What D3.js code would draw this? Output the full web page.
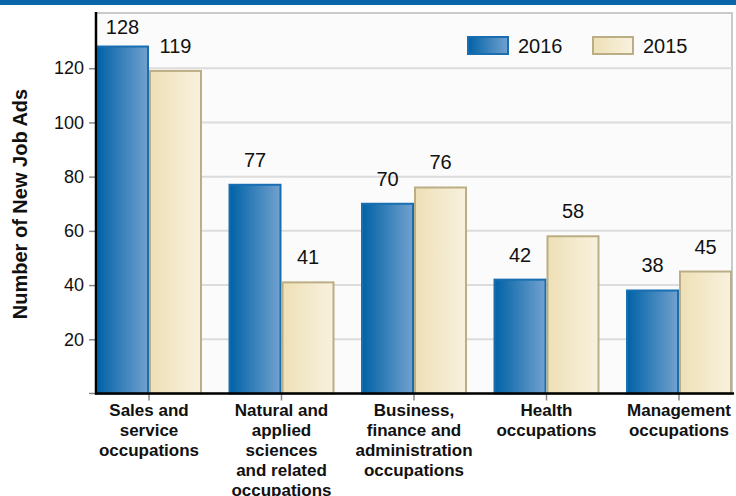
<!DOCTYPE html>
<html lang="en">
<head>
  <meta charset="UTF-8">
  <title>New Job Ads</title>
  <script src="https://cdn.jsdelivr.net/npm/d3@7/dist/d3.min.js"></script>
  <style>
    html, body { margin: 0; padding: 0; background: #fff; }
    svg { display: block; font-family: "Liberation Sans", Arial, sans-serif; }
  </style>
</head>
<body>
  <div id="chart"></div>
  <script>
    // data
    const categories = [
      ['Sales and', 'service', 'occupations'],
      ['Natural and', 'applied', 'sciences', 'and related', 'occupations'],
      ['Business,', 'finance and', 'administration', 'occupations'],
      ['Health', 'occupations'],
      ['Management', 'occupations']
    ];
    const seriesNames = ['2016', '2015'];
    const values2016 = [128, 77, 70, 42, 38];
    const values2015 = [119, 41, 76, 58, 45];
    const yTicks = [20, 40, 60, 80, 100, 120];

    const W = 736, H = 496;
    const plotL = 96, plotR = 732, plotT = 14, plotB = 393.5;

    const svg = d3.select('#chart').append('svg')
      .attr('width', W)
      .attr('height', H);

    // gradients for the bars
    const defs = svg.append('defs');
    const grads = [
      { id: 'g2016', from: '#0062a6', to: '#72a1cf', stroke: '#186eb0' },
      { id: 'g2015', from: '#eee0b6', to: '#f8f1de', stroke: '#bcae84' }
    ];
    grads.forEach(g => {
      const lg = defs.append('linearGradient').attr('id', g.id)
        .attr('x1', '0%').attr('x2', '100%').attr('y1', '0%').attr('y2', '0%');
      lg.append('stop').attr('offset', '0%').attr('stop-color', g.from);
      lg.append('stop').attr('offset', '100%').attr('stop-color', g.to);
    });

    // top band
    svg.append('rect').attr('x', 0).attr('y', 0).attr('width', W).attr('height', 5)
      .attr('fill', '#0a66a8');

    // plot background + border
    svg.append('rect')
      .attr('x', plotL).attr('y', plotT - 1)
      .attr('width', plotR - plotL).attr('height', plotB - plotT + 1)
      .attr('fill', '#fbfbfb')
      .attr('stroke', '#c9c9c9')
      .attr('stroke-width', 2);

    const catIdx = d3.range(categories.length);
    const x0 = d3.scaleBand()
      .domain(catIdx)
      .range([plotL, plotR])
      .paddingInner(0.2)
      .paddingOuter(0);
    const x1 = d3.scaleBand()
      .domain(seriesNames)
      .range([0, x0.bandwidth()]);
    const y = d3.scaleLinear()
      .domain([0, 140])
      .range([plotB, plotT]);

    // grid
    svg.append('g')
      .selectAll('line')
      .data(yTicks)
      .enter()
      .append('line')
      .attr('x1', plotL).attr('x2', plotR)
      .attr('y1', d => y(d)).attr('y2', d => y(d))
      .attr('stroke', '#dcdcdc')
      .attr('stroke-width', 2);

    // bars
    const rows = catIdx.map(i => [
      { key: '2016', v: values2016[i], fill: 'url(#g2016)', stroke: grads[0].stroke },
      { key: '2015', v: values2015[i], fill: 'url(#g2015)', stroke: grads[1].stroke }
    ]);

    const groups = svg.append('g')
      .selectAll('g')
      .data(rows)
      .enter()
      .append('g')
      .attr('transform', (d, i) => 'translate(' + x0(i) + ',0)');

    groups.selectAll('rect')
      .data(d => d)
      .enter()
      .append('rect')
      .attr('x', d => x1(d.key) + 1)
      .attr('y', d => y(d.v))
      .attr('width', x1.bandwidth() - 2)
      .attr('height', d => plotB - y(d.v))
      .attr('fill', d => d.fill)
      .attr('stroke', d => d.stroke)
      .attr('stroke-width', 2);

    // value labels (kept clear of the top border)
    groups.selectAll('text')
      .data(d => d)
      .enter()
      .append('text')
      .attr('x', d => x1(d.key) + x1.bandwidth() / 2)
      .attr('y', d => Math.max(y(d.v) - 18, 34))
      .attr('text-anchor', 'middle')
      .attr('font-size', '20px')
      .attr('fill', '#111')
      .text(d => d.v);

    // y axis
    const yAxis = d3.axisLeft(y)
      .tickValues(yTicks)
      .tickSize(7)
      .tickPadding(5);
    const gy = svg.append('g')
      .attr('transform', 'translate(' + plotL + ',0)')
      .call(yAxis);
    gy.select('.domain').remove();
    gy.selectAll('.tick line').attr('stroke', '#888').attr('stroke-width', 1.5);
    gy.selectAll('.tick text').attr('font-size', '18px').attr('fill', '#111')
      .attr('font-family', '"Liberation Sans", Arial, sans-serif');
    // tick at 0
    svg.append('line').attr('x1', plotL - 7).attr('x2', plotL).attr('y1', plotB).attr('y2', plotB)
      .attr('stroke', '#888').attr('stroke-width', 1.5);
    svg.append('line')
      .attr('x1', plotL).attr('x2', plotL)
      .attr('y1', plotT - 2).attr('y2', plotB + 1)
      .attr('stroke', '#000').attr('stroke-width', 2.5);

    // x axis
    const xAxis = d3.axisBottom(x0)
      .tickSize(7)
      .tickFormat('');
    const gx = svg.append('g')
      .attr('transform', 'translate(0,' + plotB + ')')
      .call(xAxis);
    gx.select('.domain').remove();
    gx.selectAll('.tick line').attr('stroke', '#888').attr('stroke-width', 1.5);
    svg.append('line')
      .attr('x1', plotL - 1).attr('x2', plotR + 2)
      .attr('y1', plotB).attr('y2', plotB)
      .attr('stroke', '#000').attr('stroke-width', 2.5);

    // x category labels
    svg.append('g')
      .selectAll('text')
      .data(categories)
      .enter()
      .append('text')
      .attr('x', (d, i) => x0(i) + x0.bandwidth() / 2)
      .attr('y', 416)
      .attr('text-anchor', 'middle')
      .attr('font-size', '17px')
      .attr('font-weight', 'bold')
      .attr('fill', '#111')
      .selectAll('tspan')
      .data(d => d)
      .enter()
      .append('tspan')
      .attr('x', function () { return d3.select(this.parentNode).attr('x'); })
      .attr('dy', (d, i) => i === 0 ? 0 : 20)
      .text(d => d);

    // y title
    svg.append('text')
      .attr('transform', 'translate(27,204) rotate(-90)')
      .attr('text-anchor', 'middle')
      .attr('font-size', '20px')
      .attr('font-weight', 'bold')
      .attr('fill', '#111')
      .text('Number of New Job Ads');

    // legend
    const legendX = [467, 592];
    const legend = svg.append('g')
      .selectAll('g')
      .data(seriesNames)
      .enter()
      .append('g')
      .attr('transform', (d, i) => 'translate(' + legendX[i] + ',36)');
    legend.append('rect')
      .attr('x', 1).attr('y', 1)
      .attr('width', 40).attr('height', 17)
      .attr('fill', (d, i) => 'url(#' + grads[i].id + ')')
      .attr('stroke', (d, i) => grads[i].stroke)
      .attr('stroke-width', 2);
    legend.append('text')
      .attr('x', 51).attr('y', 16.5)
      .attr('font-size', '20px')
      .attr('fill', '#111')
      .text(d => d);
  </script>
</body>
</html>
